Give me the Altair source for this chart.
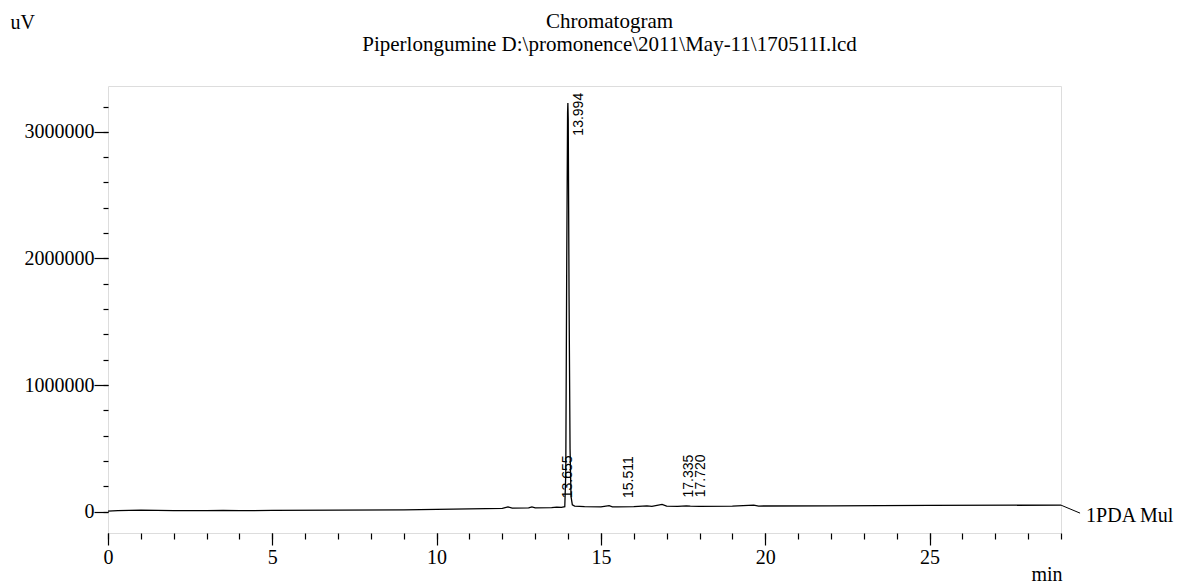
import altair as alt
import pandas as pd

# ---- data ----
times = [0.0, 0.3, 1.0, 2.0, 3.0, 3.5, 4.0, 5.0, 7.0, 9.0, 10.0, 11.0, 12.0, 12.17, 12.3,
         12.8, 12.9, 13.0, 13.5, 13.655, 13.8, 13.9, 13.93, 13.96, 13.985, 13.994, 14.005,
         14.03, 14.06, 14.09, 14.13, 14.2, 14.5, 15.0, 15.25, 15.35, 15.511, 16.0, 16.4,
         16.55, 16.86, 17.0, 17.335, 17.6, 17.72, 18.0, 19.0, 19.65, 19.8, 22.0, 25.0, 29.0]
signal = [5000, 8000, 12000, 9000, 8000, 10000, 8000, 10000, 12000, 15000, 18000, 22000,
          27000, 38000, 28000, 30000, 38000, 31000, 33000, 36000, 34000, 40000, 300000,
          2000000, 3150000, 3227000, 3100000, 1700000, 500000, 120000, 55000, 45000, 40000,
          38000, 48000, 39000, 38000, 40000, 46000, 43000, 58000, 44000, 42000, 46000, 44000,
          43000, 44000, 52000, 45000, 47000, 50000, 52000]

peak_times = [13.655, 13.994, 15.511, 17.335, 17.720]
peak_heights = [36000, 3227000, 38000, 42000, 44000]
peak_labels = ["13.655", "13.994", "15.511", "17.335", "17.720"]

x_major = [0, 5, 10, 15, 20, 25]
x_minor = list(range(0, 30))
y_major = [0, 1000000, 2000000, 3000000]
y_minor = [i * 200000 for i in range(0, 17)]

title_text = "Chromatogram"
subtitle_text = "Piperlongumine D:\\promonence\\2011\\May-11\\170511I.lcd"
channel_name = "1PDA Mul"

X_DOMAIN = [0, 29]
Y_DOMAIN = [-168000, 3362000]

df = pd.DataFrame({"t": times, "v": signal})
lab = pd.DataFrame({
    "t": peak_times,
    "ly": [min(h + 70000, 2970000) for h in peak_heights],
    "label": peak_labels,
})
end_t, end_v = times[-1], signal[-1]
conn = pd.DataFrame({"t": [end_t, end_t + 0.58], "v": [end_v, end_v - 63000]})
endlab = pd.DataFrame({"t": [end_t + 0.58], "v": [end_v - 63000], "label": [channel_name]})

SERIF = "Liberation Serif"

x_scale = alt.Scale(domain=X_DOMAIN, nice=False, zero=False)
y_scale = alt.Scale(domain=Y_DOMAIN, nice=False, zero=False)

common = dict(tickColor="black", tickWidth=1.2, domain=False, grid=False,
              labelOverlap=False, labelFlush=False)

x_axis_major = alt.Axis(
    orient="bottom", values=x_major, tickSize=12, labelPadding=2,
    labelFont=SERIF, labelFontSize=20, labelColor="black",
    title="min", titleFont=SERIF, titleFontSize=20, titleFontWeight="normal",
    titleColor="black", titleX=954, titleY=47, titleAlign="right",
    titleBaseline="alphabetic", titleAnchor="start", **common,
)
y_axis_major = alt.Axis(
    orient="left", values=y_major, format="d", tickSize=14, labelPadding=0,
    labelFont=SERIF, labelFontSize=20, labelColor="black",
    title="uV", titleFont=SERIF, titleFontSize=20, titleFontWeight="normal",
    titleColor="black", titleAngle=0, titleX=-98, titleY=-58, titleAlign="left",
    titleBaseline="alphabetic", **common,
)
x_axis_minor = alt.Axis(orient="bottom", values=x_minor, tickSize=6, labels=False,
                        title=None, **common)
y_axis_minor = alt.Axis(orient="left", values=y_minor, tickSize=5, labels=False,
                        title=None, **common)

line = alt.Chart(df).mark_line(color="black", strokeWidth=1.3).encode(
    x=alt.X("t:Q", scale=x_scale, axis=x_axis_major),
    y=alt.Y("v:Q", scale=y_scale, axis=y_axis_major),
    order="t:Q",
)
minor = alt.Chart(df).mark_line(opacity=0).encode(
    x=alt.X("t:Q", scale=x_scale, axis=x_axis_minor),
    y=alt.Y("v:Q", scale=y_scale, axis=y_axis_minor),
    order="t:Q",
)

labels = alt.Chart(lab).mark_text(
    angle=270, align="left", baseline="middle", dy=11,
    font="Liberation Sans", fontSize=14, color="black",
).encode(
    x=alt.X("t:Q", axis=None), y=alt.Y("ly:Q", axis=None), text="label:N"
)

connector = alt.Chart(conn).mark_line(color="black", strokeWidth=1).encode(
    x=alt.X("t:Q", axis=None), y=alt.Y("v:Q", axis=None)
)
endtext = alt.Chart(endlab).mark_text(
    align="left", baseline="middle", dx=6, dy=3, font=SERIF, fontSize=20, color="black"
).encode(x=alt.X("t:Q", axis=None), y=alt.Y("v:Q", axis=None), text="label:N")

chart = alt.layer(line, minor, labels, connector, endtext).resolve_axis(
    x="independent", y="independent"
).properties(
    width=953, height=447,
    title=alt.TitleParams(
        text=title_text, subtitle=subtitle_text,
        font=SERIF, fontSize=21, fontWeight="normal", color="black",
        subtitleFont=SERIF, subtitleFontSize=21, subtitleColor="black",
        subtitlePadding=2, anchor="middle", dx=25, offset=-43,
    ),
    autosize=alt.AutoSizeParams(type="none"),
    padding={"left": 100, "top": 78, "right": 113, "bottom": 50},
).configure_view(stroke="black", strokeWidth=1.5).configure(background="white")

chart.save("out.html", embed_options={"renderer": "svg", "actions": False})
